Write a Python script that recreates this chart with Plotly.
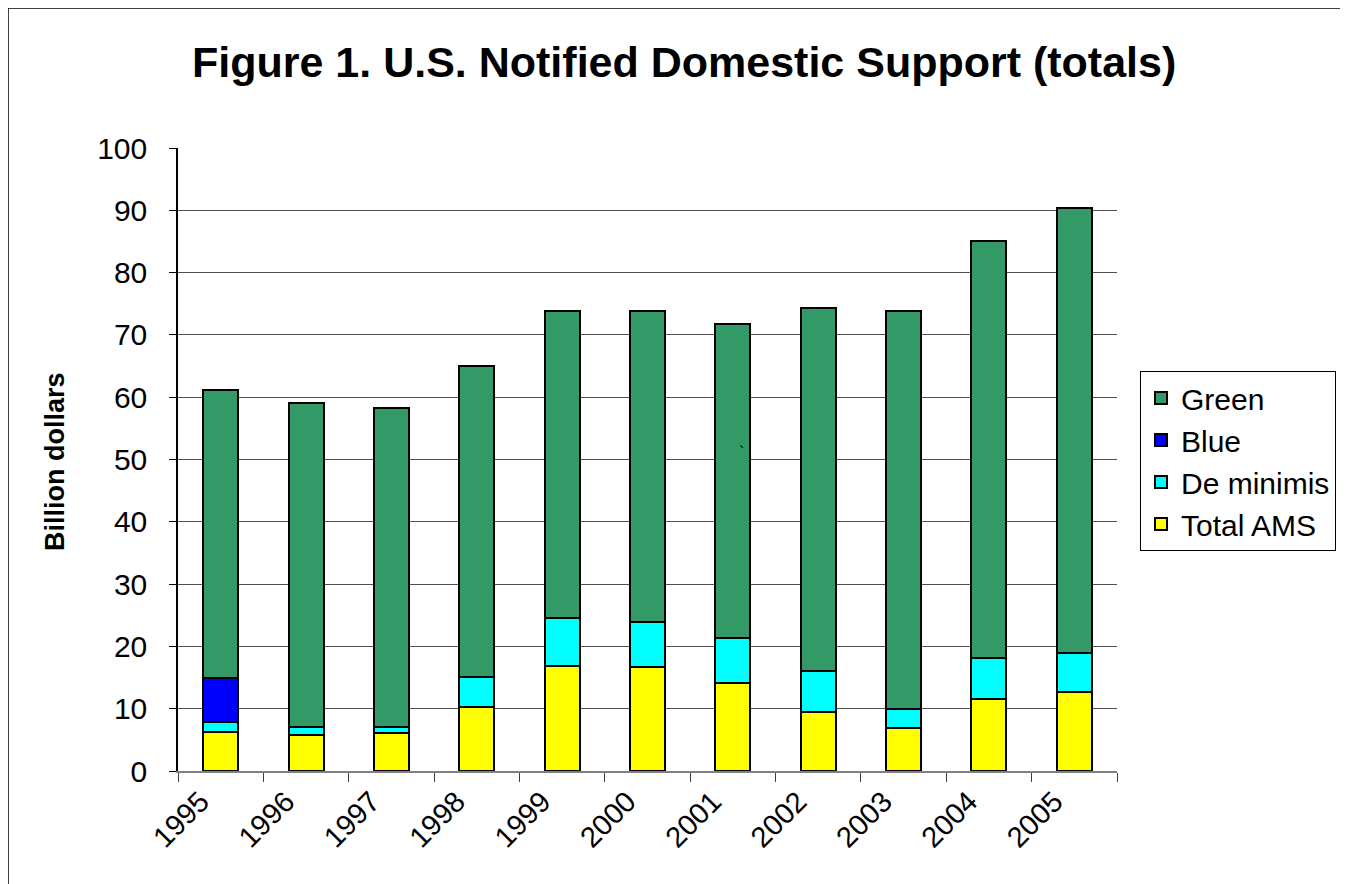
import plotly.graph_objects as go

years = ["1995", "1996", "1997", "1998", "1999", "2000", "2001", "2002", "2003", "2004", "2005"]
total_ams = [6.2, 5.8, 6.1, 10.3, 16.9, 16.7, 14.1, 9.4, 6.9, 11.6, 12.7]
de_minimis = [1.7, 1.2, 0.9, 4.8, 7.6, 7.2, 7.3, 6.7, 3.0, 6.5, 6.2]
blue_box = [7.0, 0, 0, 0, 0, 0, 0, 0, 0, 0, 0]
green_box = [46.3, 52.0, 51.3, 49.9, 49.3, 50.0, 50.4, 58.2, 64.0, 67.0, 71.5]
y_ticks = [0, 10, 20, 30, 40, 50, 60, 70, 80, 90, 100]

FONT = "Liberation Sans, Arial, sans-serif"
OFF = 8  # page body margin
W, H = 1348 - OFF, 884 - OFF
ML = 178 - OFF
MT = 148 - OFF
MR = W - (1117 - OFF)
MB = H - (771 - OFF)
PW = W - ML - MR
PH = H - MT - MB


def px_x(x):
    return (x - OFF - ML) / PW


def px_y(y):
    return (H - MB - (y - OFF)) / PH


fig = go.Figure()
series = [
    ("Total AMS", total_ams, "#FFFF00"),
    ("De minimis", de_minimis, "#00FFFF"),
    ("Blue", blue_box, "#0000FF"),
    ("Green", green_box, "#339966"),
]
for name, vals, col in series:
    fig.add_trace(go.Bar(
        x=years, y=vals, name=name,
        marker=dict(color=col, line=dict(color="#000000", width=2)),
    ))

fig.update_layout(
    width=W, height=H,
    barmode="stack",
    bargap=0.59,
    plot_bgcolor="white",
    paper_bgcolor="white",
    margin=dict(l=ML, r=MR, t=MT, b=MB),
    font=dict(family=FONT, color="black"),
    showlegend=True,
    legend=dict(
        traceorder="reversed",
        x=px_x(1140), y=px_y(371), xanchor="left", yanchor="top",
        bordercolor="black", borderwidth=1,
        font=dict(size=30, family=FONT),
        itemwidth=30,
        tracegroupgap=0,
    ),
    xaxis=dict(
        type="category",
        tickangle=-45,
        tickfont=dict(size=29, family=FONT),
        showline=True, linecolor="#808080", linewidth=2,
        ticks="outside", tickson="boundaries", ticklen=9, tickcolor="#404040", tickwidth=1,
        showgrid=False, zeroline=False,
        ticklabelshift=-20,
    ),
    yaxis=dict(
        range=[0, 100],
        tickvals=y_ticks,
        tickfont=dict(size=30, family=FONT),
        showline=True, linecolor="black", linewidth=1.5,
        ticks="outside", ticklen=7, tickcolor="black", tickwidth=1,
        showgrid=True, gridcolor="#505050", gridwidth=1,
        zeroline=False,
        ticklabelstandoff=16,
    ),
    annotations=[
        dict(text="<b>Figure 1. U.S. Notified Domestic Support (totals)</b>",
             xref="paper", yref="paper", x=px_x(684), y=px_y(62),
             xanchor="center", yanchor="middle", showarrow=False,
             font=dict(size=43, family=FONT)),
        dict(text="<b>Billion dollars</b>",
             xref="paper", yref="paper", x=px_x(55), y=px_y(461),
             xanchor="center", yanchor="middle", showarrow=False, textangle=-90,
             font=dict(size=27, family=FONT)),
        dict(text="`",
             xref="paper", yref="paper", x=px_x(741), y=px_y(452),
             xanchor="center", yanchor="middle", showarrow=False,
             font=dict(size=16, family=FONT)),
    ],
    shapes=[
        dict(type="line", xref="paper", yref="paper",
             x0=px_x(8), x1=px_x(1400), y0=px_y(8), y1=px_y(8),
             line=dict(color="black", width=1.5), layer="below"),
        dict(type="line", xref="paper", yref="paper",
             x0=px_x(8), x1=px_x(8), y0=px_y(8), y1=px_y(950),
             line=dict(color="black", width=1.5), layer="below"),
    ],
)

fig.write_html("out.html")
